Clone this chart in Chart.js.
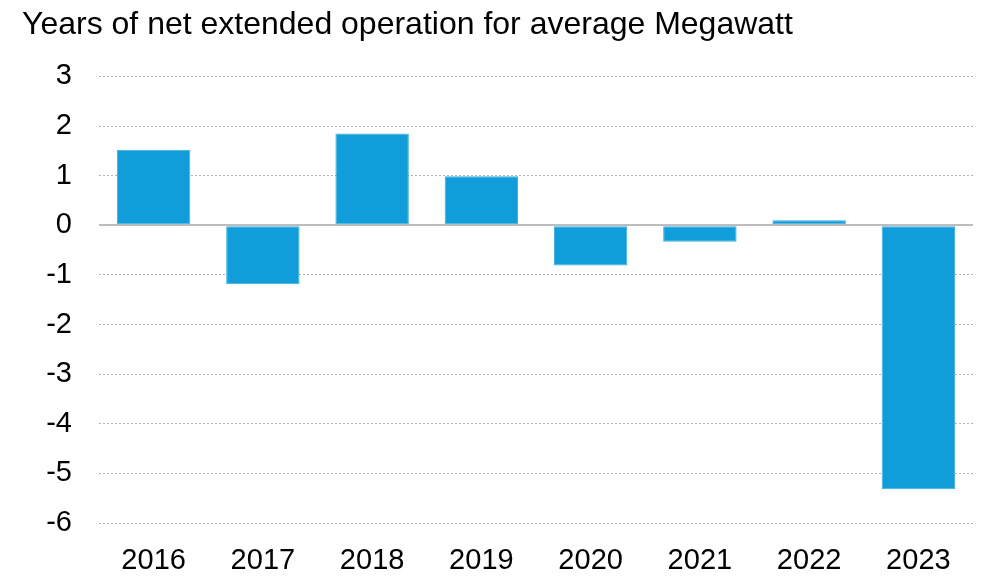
<!doctype html>
<html lang="en">
<head>
    <meta charset="utf-8">
    <title>Years of net extended operation</title>
    <script src="https://cdn.jsdelivr.net/npm/chart.js"></script>
    <style>
        body {
            margin: 0;
            padding: 0;
            background-color: #ffffff;
        }
        .chart-box {
            width: 982px;
            height: 576px;
            position: relative;
        }
    </style>
</head>
<body>
    <div class="chart-box">
        <canvas id="opChart"></canvas>
    </div>
    <script>
        const years = ['2016', '2017', '2018', '2019', '2020', '2021', '2022', '2023'];
        const netYears = [1.52, -1.19, 1.85, 0.99, -0.81, -0.33, 0.10, -5.32];
        const chartTitle = 'Years of net extended operation for average Megawatt';

        const fontName = "'Liberation Sans', Arial, sans-serif";

        const opChart = new Chart(document.getElementById('opChart').getContext('2d'), {
            type: 'bar',
            data: {
                labels: years,
                datasets: [
                    {
                        label: 'Net years',
                        data: netYears,
                        backgroundColor: '#109dda',
                        borderColor: '#3aaee0',
                        borderWidth: 1,
                        borderSkipped: false,
                        barPercentage: 0.672,
                        categoryPercentage: 1
                    }
                ]
            },
            options: {
                responsive: true,
                maintainAspectRatio: false,
                animation: false,
                layout: { padding: { left: 22, right: 9, top: 0, bottom: 0 } },
                plugins: {
                    legend: { display: false },
                    tooltip: { enabled: false },
                    title: {
                        display: true,
                        text: chartTitle,
                        align: 'start',
                        color: '#000000',
                        font: { family: fontName, size: 32, weight: 'normal' },
                        padding: { top: 6, bottom: 32 }
                    }
                },
                scales: {
                    x: {
                        afterFit: (axis) => { axis.height = 53; },
                        grid: { display: false, drawTicks: false },
                        border: { display: false },
                        ticks: {
                            color: '#000000',
                            font: { family: fontName, size: 29, lineHeight: 1 },
                            padding: 23,
                            maxRotation: 0
                        }
                    },
                    y: {
                        min: -6,
                        max: 3,
                        afterFit: (axis) => { axis.width = 77; },
                        border: {
                            display: false,
                            dash: (ctx) => ctx.tick && ctx.tick.value === 0 ? [] : [2, 2]
                        },
                        grid: {
                            drawTicks: false,
                            color: (ctx) => ctx.tick && ctx.tick.value === 0 ? '#bdbdbd' : '#b0b0b0',
                            lineWidth: (ctx) => ctx.tick && ctx.tick.value === 0 ? 2 : 1
                        },
                        ticks: {
                            stepSize: 1,
                            color: '#000000',
                            font: { family: fontName, size: 29 },
                            padding: 27
                        }
                    }
                }
            }
        });
    </script>
</body>
</html>
